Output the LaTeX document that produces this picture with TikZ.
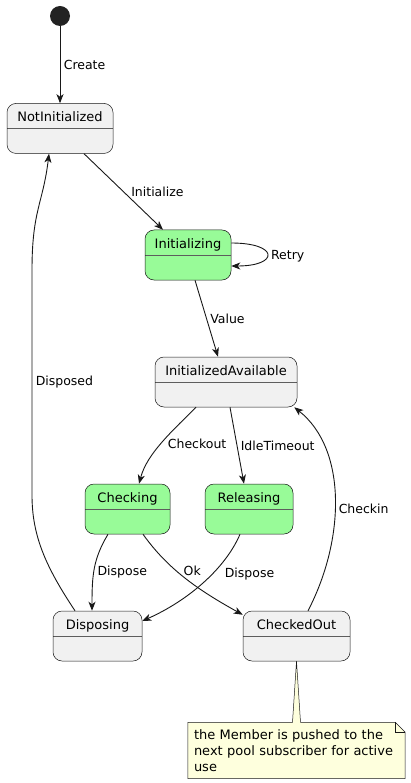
\documentclass[tikz,border=0pt]{standalone}
\usepackage{fontspec}
\setmainfont{DejaVu Sans}
\usetikzlibrary{arrows.meta, positioning, backgrounds}
\definecolor{lineacolor}{HTML}{181818}
\definecolor{estadofondo}{HTML}{F1F1F1}
\definecolor{verde}{HTML}{98FB98}
\definecolor{notafondo}{HTML}{FEFFDD}
\definecolor{inicioc}{HTML}{222222}

\begin{document}
\begin{tikzpicture}[x=1pt, y=-1pt, >={Stealth[length=9pt, width=7pt, inset=2.5pt]}, font=\fontsize{12.5}{15}\selectfont]
        \tikzstyle{estado} = [draw=lineacolor, line width=0.5pt, fill=estadofondo, rounded corners=9pt, minimum height=50pt, inner sep=0pt, text height=10pt, text depth=23pt, font=\fontsize{13}{15}\selectfont, path picture={\draw[lineacolor!70, line width=0.5pt] (path picture bounding box.west) -- (path picture bounding box.east);}]
        \tikzstyle{activo} = [estado, fill=verde]
        \tikzstyle{flecha} = [->, draw=lineacolor, line width=0.9pt]
        \tikzstyle{nota} = [text width=205pt, inner sep=6pt, minimum height=56pt, align=left, font=\fontsize{13}{16}\selectfont]

        \useasboundingbox (0,0) rectangle (411,783);

        % Definición de nodos
        \node at (60,16) [circle, fill=inicioc, minimum size=20pt, inner sep=0pt] (inicio) {}; % Estado inicial
        \node [estado, minimum width=106pt, below=77pt of inicio] (NotInit) {NotInitialized};
        \node [activo, minimum width=86pt] at (188,255) (Initing) {Initializing};
        \node [estado, minimum width=142pt] at (226,382) (InitAvail) {InitializedAvailable};
        \node [activo, minimum width=85pt] at (127.5,509) (Checking) {Checking};
        \node [activo, minimum width=88pt] at (249,509) (Releasing) {Releasing};
        \node [estado, minimum width=89pt] at (97.5,636) (Disposing) {Disposing};
        \node [estado, minimum width=107pt] at (296.5,636) (CheckedOut) {CheckedOut};
        \node [nota, below=61pt of CheckedOut] (nota) {the Member is pushed to the\\next pool subscriber for active\\use}; % Nota

        \begin{scope}[on background layer]
        \draw[lineacolor, line width=0.5pt, fill=notafondo] ([xshift=4pt]nota.north) -- ([xshift=-10pt]nota.north east) -- ([yshift=-10pt]nota.north east) -- (nota.south east) -- (nota.south west) -- (nota.north west) -- ([xshift=-4pt]nota.north) -- (CheckedOut.south) -- cycle;
        \draw[lineacolor, line width=0.5pt] ([xshift=-10pt]nota.north east) -- ([xshift=-10pt, yshift=-10pt]nota.north east) -- ([yshift=-10pt]nota.north east);
        \end{scope}

        % Transiciones
        \draw[flecha] (inicio) -- node[right]{Create} (NotInit);
        \draw[flecha] ([xshift=24pt]NotInit.south) -- node[right, xshift=4pt]{Initialize} ([xshift=-25pt]Initing.north);
        \draw[flecha] ([yshift=12pt]Initing.east) .. controls +(48,0) and +(48,0) .. node[right, yshift=-2pt]{Retry} ([yshift=-11pt]Initing.east);
        \draw[flecha] ([xshift=7pt]Initing.south) -- node[right]{Value} ([xshift=-8pt]InitAvail.north);
        \draw[flecha] ([xshift=-30pt]InitAvail.south) .. controls +(-25,25) and +(8,-30) .. node[right, xshift=3pt]{Checkout} ([xshift=11.5pt]Checking.north);
        \draw[flecha] ([xshift=4pt]InitAvail.south) -- node[right]{IdleTimeout} ([xshift=-5pt]Releasing.north);
        \draw[flecha] ([xshift=11.5pt]CheckedOut.north) .. controls +(37,-71) and +(53,42) .. node[right, pos=0.45]{Checkin} ([xshift=-3pt]InitAvail.south east);
        \draw[flecha] ([xshift=-19.5pt]Checking.south) .. controls +(-15,25) and +(0,-35) .. node[right, pos=0.55]{Dispose} ([xshift=-5.5pt]Disposing.north);
        \draw[flecha] ([xshift=15.5pt]Checking.south) .. controls +(25,35) and +(-45,-25) .. node[right, pos=0.4, xshift=4pt]{Ok} ([yshift=-4pt]CheckedOut.north west);
        \draw[flecha] ([xshift=-9pt]Releasing.south) .. controls +(-15,35) and +(45,-20) .. node[right, pos=0.4, xshift=9pt]{Dispose} ([yshift=15pt]Disposing.east);
        \draw[flecha] ([xshift=-22.5pt]Disposing.north) .. controls +(-30,-45) and +(0,40) .. (32,495) -- node[right]{Disposed} (32,270) .. controls +(0,-60) and +(-6,50) .. ([xshift=-11pt]NotInit.south);

        \end{tikzpicture}
\end{document}
